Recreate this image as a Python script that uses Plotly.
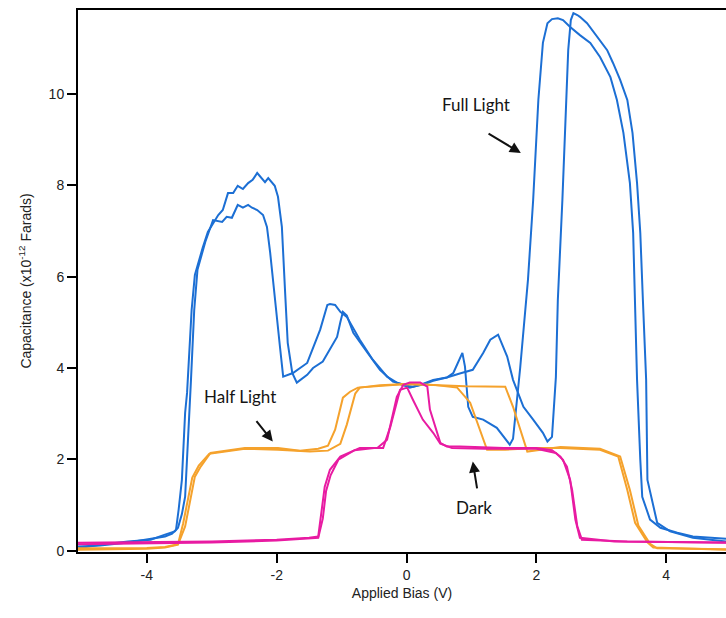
import plotly.graph_objects as go

# Capacitance–voltage sweeps (capacitance in units of 1e-12 F), two sweeps per condition

# Full light
full_a_v = [-5.06, -4.72, -4.29, -3.94, -3.72, -3.61, -3.55, -3.51, -3.46, -3.41, -3.38, -3.31, -3.26,
            -3.14, -3.06, -2.90, -2.83, -2.75, -2.67, -2.60, -2.52, -2.44, -2.37, -2.30, -2.23, -2.18,
            -2.13, -2.03, -1.98, -1.92, -1.87, -1.83, -1.76, -1.69, -1.53, -1.44, -1.29, -1.18, -1.07,
            -1.02, -0.98, -0.92, -0.82, -0.61, -0.41, -0.21, -0.10, 0.05, 0.21, 0.41, 0.62, 0.72, 0.86,
            0.90, 0.95, 1.02, 1.18, 1.39, 1.59, 1.64, 1.75, 1.87, 1.95, 2.03, 2.10, 2.17, 2.24, 2.33,
            2.41, 2.52, 2.67, 2.83, 2.98, 3.14, 3.24, 3.34, 3.44, 3.49, 3.52, 3.55, 3.60, 3.63, 3.75,
            3.91, 4.17, 4.41, 4.92]
full_a_c = [0.09, 0.11, 0.18, 0.26, 0.31, 0.37, 0.46, 0.90, 1.55, 3.02, 3.46, 5.27, 6.04,
            6.63, 6.98, 7.35, 7.46, 7.83, 7.83, 7.99, 7.92, 8.05, 8.12, 8.27, 8.16, 8.07,
            8.16, 7.99, 7.75, 7.09, 5.65, 4.55, 3.89, 3.68, 3.85, 4.00, 4.14, 4.40, 4.68,
            5.00, 5.23, 5.15, 4.77, 4.35, 3.96, 3.70, 3.66, 3.57, 3.63, 3.74, 3.79, 3.89, 4.33,
            4.03, 3.15, 2.93, 2.87, 2.69, 2.32, 2.45, 4.00, 5.93, 7.68, 9.87, 11.12, 11.55, 11.64, 11.66,
            11.62, 11.47, 11.29, 11.12, 10.81, 10.37, 9.87, 9.15, 8.05, 6.96, 5.49, 3.74, 1.99, 1.18, 0.68,
            0.50, 0.39, 0.31, 0.26]

full_b_v = [-5.06, -4.72, -4.29, -3.94, -3.72, -3.57, -3.52, -3.46, -3.41, -3.34, -3.32, -3.27, -3.22,
            -3.10, -3.03, -2.98, -2.84, -2.77, -2.69, -2.60, -2.52, -2.44, -2.38, -2.30, -2.21, -2.15,
            -2.10, -2.03, -1.95, -1.90, -1.75, -1.53, -1.33, -1.22, -1.18, -1.10, -1.02, -0.92, -0.72,
            -0.52, -0.30, -0.15, -0.05, 0.10, 0.25, 0.41, 0.62, 0.82, 1.02, 1.18, 1.29, 1.41, 1.55,
            1.64, 1.80, 1.95, 2.10, 2.17, 2.24, 2.30, 2.33, 2.40, 2.44, 2.49, 2.53, 2.57, 2.63, 2.67,
            2.78, 2.94, 3.09, 3.18, 3.29, 3.40, 3.48, 3.55, 3.60, 3.64, 3.69, 3.71, 3.86, 4.06, 4.41, 4.92]
full_b_c = [0.05, 0.13, 0.20, 0.24, 0.35, 0.42, 0.50, 0.80, 1.18, 3.02, 3.74, 5.27, 6.15,
            6.76, 7.02, 7.24, 7.20, 7.31, 7.29, 7.57, 7.51, 7.57, 7.51, 7.46, 7.35, 7.09,
            6.52, 5.49, 4.47, 3.81, 3.89, 4.11, 4.84, 5.38, 5.40, 5.38, 5.23, 5.12, 4.62,
            4.18, 3.81, 3.68, 3.62, 3.59, 3.64, 3.72, 3.79, 3.88, 3.96, 4.33, 4.62, 4.73, 4.25,
            3.74, 3.15, 2.87, 2.58, 2.39, 2.49, 3.80, 5.49, 7.68, 9.15, 10.96, 11.62, 11.77, 11.73, 11.69,
            11.55, 11.25, 10.96, 10.68, 10.31, 9.87, 9.15, 8.05, 6.96, 5.49, 3.74, 1.55, 0.61, 0.42, 0.28, 0.20]

# Half light
half_a_v = [-5.06, -4.00, -3.72, -3.52, -3.41, -3.26, -3.17, -3.02, -2.49, -1.98, -1.64, -1.36, -1.21,
            -1.10, -0.98, -0.87, -0.75, -0.41, 0.00, 0.41, 0.78, 0.98, 1.24, 1.52, 2.00, 2.37, 2.98,
            3.26, 3.40, 3.52, 3.71, 3.80, 4.92]
half_a_c = [0.02, 0.04, 0.07, 0.13, 0.53, 1.62, 1.84, 2.14, 2.25, 2.25, 2.19, 2.23, 2.30,
            2.65, 3.35, 3.48, 3.57, 3.61, 3.65, 3.63, 3.57, 3.24, 2.21, 2.21, 2.25, 2.25, 2.21,
            2.06, 1.33, 0.61, 0.18, 0.07, 0.02]

half_b_v = [-5.06, -4.00, -3.72, -3.52, -3.44, -3.30, -3.20, -3.04, -2.49, -1.98, -1.49, -1.21, -1.02,
            -0.92, -0.79, -0.72, -0.41, 0.00, 0.41, 0.90, 1.52, 1.64, 1.86, 2.37, 2.98, 3.29, 3.44,
            3.57, 3.75, 3.86, 4.92]
half_b_c = [0.05, 0.06, 0.08, 0.14, 0.60, 1.60, 1.86, 2.12, 2.23, 2.21, 2.17, 2.19, 2.34,
            2.76, 3.44, 3.57, 3.62, 3.65, 3.63, 3.60, 3.59, 3.15, 2.17, 2.27, 2.23, 2.06, 1.33,
            0.55, 0.15, 0.05, 0.03]

# Dark
dark_a_v = [-5.06, -4.00, -3.00, -2.00, -1.50, -1.36, -1.31, -1.26, -1.18, -1.02, -0.72, -0.45, -0.30,
            -0.15, -0.05, 0.05, 0.21, 0.32, 0.36, 0.47, 0.52, 0.62, 0.82, 1.50, 2.00, 2.24, 2.37,
            2.47, 2.55, 2.63, 2.70, 3.40, 4.92]
dark_a_c = [0.17, 0.18, 0.20, 0.24, 0.28, 0.31, 0.80, 1.40, 1.77, 2.06, 2.25, 2.25, 2.43,
            3.37, 3.63, 3.68, 3.68, 3.59, 3.09, 2.58, 2.36, 2.28, 2.28, 2.25, 2.25, 2.20, 2.06,
            1.84, 1.33, 0.53, 0.24, 0.20, 0.17]

dark_b_v = [-5.06, -4.00, -3.00, -2.00, -1.50, -1.36, -1.29, -1.24, -1.17, -1.05, -0.80, -0.50, -0.36,
            -0.25, -0.10, 0.01, 0.10, 0.25, 0.41, 0.52, 0.70, 1.20, 2.00, 2.30, 2.41, 2.52, 2.60,
            2.67, 3.20, 4.92]
dark_b_c = [0.14, 0.16, 0.18, 0.22, 0.26, 0.28, 0.70, 1.30, 1.65, 1.99, 2.20, 2.25, 2.25,
            2.71, 3.52, 3.57, 3.30, 2.87, 2.58, 2.34, 2.25, 2.23, 2.23, 2.14, 1.99, 1.55, 0.68,
            0.28, 0.20, 0.18]

# Label text / position and arrow tail -> head (data units)
labels = ["Full Light", "Half Light", "Dark"]
label_xy = [(1.07, 9.78), (-2.57, 3.37), (1.04, 0.94)]
arrow_tail = [(1.24, 9.15), (-2.33, 2.87), (1.09, 1.33)]
arrow_head = [(1.76, 8.71), (-2.06, 2.39), (1.02, 1.95)]

x_ticks = [-4, -2, 0, 2, 4]
y_ticks = [0, 2, 4, 6, 8, 10]

BLUE = "#1c6fd4"
ORANGE = "#f5a22c"
MAGENTA = "#e81ba2"

fig = go.Figure()
for xs, ys, col in [
    (full_a_v, full_a_c, BLUE), (full_b_v, full_b_c, BLUE),
    (half_a_v, half_a_c, ORANGE), (half_b_v, half_b_c, ORANGE),
    (dark_a_v, dark_a_c, MAGENTA), (dark_b_v, dark_b_c, MAGENTA),
]:
    fig.add_trace(go.Scatter(x=xs, y=ys, mode="lines",
                             line=dict(color=col, width=2), showlegend=False,
                             hoverinfo="skip"))

for txt, (tx, ty) in zip(labels, label_xy):
    fig.add_annotation(x=tx, y=ty, text=txt, showarrow=False,
                       font=dict(family="Lato", size=17, color="#151515"))

for (ax_, ay_), (hx, hy) in zip(arrow_tail, arrow_head):
    fig.add_annotation(x=hx, y=hy, ax=ax_, ay=ay_, xref="x", yref="y",
                       axref="x", ayref="y", text="", showarrow=True,
                       arrowhead=2, arrowsize=1.1, arrowwidth=2, arrowcolor="#111111")

tick_font = dict(family="Liberation Sans, Arial", size=14, color="#222222")

fig.update_layout(
    width=726, height=618,
    margin=dict(l=78, r=0, t=10, b=66),
    paper_bgcolor="white", plot_bgcolor="white",
    font=dict(family="Liberation Sans, Arial", size=14, color="#222222"),
)
fig.update_xaxes(
    range=[-5.06, 4.92], tickvals=x_ticks, ticktext=[str(v) for v in x_ticks],
    showgrid=False, zeroline=False, showline=True, linecolor="black", linewidth=2,
    mirror=True, ticks="outside", ticklen=9, tickwidth=2, tickcolor="black",
    tickfont=tick_font,
    title=dict(text="Applied Bias (V)", font=dict(size=14), standoff=6),
)
fig.update_yaxes(
    range=[-0.03, 11.84], tickvals=y_ticks, ticktext=[str(v) for v in y_ticks],
    showgrid=False, zeroline=False, showline=True, linecolor="black", linewidth=2,
    mirror=False, ticks="outside", ticklen=9, tickwidth=2, tickcolor="black",
    tickfont=tick_font,
    title=dict(text="Capacitance (x10<sup>-12</sup> Farads)", font=dict(size=14), standoff=14),
)

fig.write_html("out.html")
